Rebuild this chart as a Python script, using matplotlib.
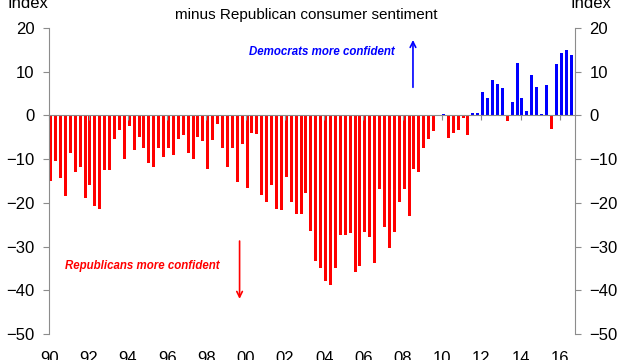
import matplotlib
matplotlib.use("Agg")
import matplotlib.pyplot as plt
import numpy as np

plt.rcParams["font.family"] = ["Liberation Sans", "DejaVu Sans"]

# Democrat minus Republican consumer sentiment, quarterly 1990Q1 - 2016Q3
start_year = 1990
sentiment_gap = [
    -15.0, -10.4, -14.2, -18.4,   # 1990
    -8.5, -12.9, -11.9, -19.0,    # 1991
    -15.9, -20.7, -21.4, -12.5,   # 1992
    -12.5, -5.5, -3.4, -10.0,     # 1993
    -2.4, -7.9, -5.0, -7.4,       # 1994
    -10.9, -11.9, -7.4, -9.5,     # 1995
    -7.4, -9.1, -5.5, -4.5,       # 1996
    -8.5, -10.0, -5.0, -5.9,      # 1997
    -12.3, -5.6, -1.9, -7.5,      # 1998
    -11.9, -7.4, -15.2, -6.6,     # 1999
    -16.6, -4.0, -4.3, -18.1,     # 2000
    -19.9, -15.9, -21.3, -21.6,   # 2001
    -14.0, -19.7, -22.6, -22.6,   # 2002
    -17.7, -26.4, -33.2, -34.9,   # 2003
    -37.9, -38.8, -34.9, -27.3,   # 2004
    -27.3, -26.9, -35.8, -34.5,   # 2005
    -26.6, -27.7, -33.8, -16.9,   # 2006
    -25.5, -30.3, -26.6, -19.9,   # 2007
    -16.9, -22.9, -12.3, -13.0,   # 2008
    -7.5, -5.3, -3.6, 0.0,        # 2009
    0.3, -5.2, -4.1, -3.4,        # 2010
    -0.5, -4.4, 0.5, 0.5,         # 2011
    5.3, 3.9, 8.1, 7.3,           # 2012
    6.2, -1.2, 3.1, 11.9,         # 2013
    3.9, 1.0, 9.3, 6.6,           # 2014
    0.3, 7.0, -3.0, 11.7,         # 2015
    14.2, 14.9, 13.9,             # 2016
]
tick_years = list(range(1990, 2017, 2))
tick_labels = [f"{y % 100:02d}" for y in tick_years]

GRAY = "#8c8c8c"

vals = np.array(sentiment_gap)
x = start_year + np.arange(len(vals)) / 4 + 0.07
colors = np.where(vals >= 0, "#0000ff", "#ff0000")

fig = plt.figure(figsize=(6.4, 3.6), dpi=100)
ax = fig.add_axes([0.0761, 0.0722, 0.8223, 0.85])

ax.bar(x, vals, width=0.15, color=colors, zorder=2)

ax.set_xlim(1989.97, 2016.77)
ax.set_ylim(-50, 20)
ax.set_yticks(range(-50, 21, 10))

# x labels sit at the bottom, tick marks live on the zero line
ax.set_xticks(tick_years)
ax.set_xticklabels(tick_labels)
ax.tick_params(axis="x", length=0, pad=12.5, labelsize=12)
ax.spines["bottom"].set_visible(False)
ax.spines["top"].set_visible(False)
for side in ("left", "right"):
    ax.spines[side].set_color(GRAY)
ax.tick_params(axis="y", direction="out", length=4.3, color=GRAY,
               labelsize=12, left=True, right=True,
               labelleft=True, labelright=True)
ax.tick_params(axis="y", which="major", pad=6)

zero = ax.secondary_xaxis(50 / 70)
zero.set_alignment("bottom")
zero.set_xticks(tick_years)
zero.set_xticklabels([])
zero.tick_params(axis="x", direction="out", length=3.6, color=GRAY)
zero.spines["bottom"].set_color(GRAY)
zero.set_zorder(3)

fig.text(48 / 640, 1 - 8 / 360, "Index", ha="right", va="baseline", fontsize=12)
fig.text(570 / 640, 1 - 8 / 360, "Index", ha="left", va="baseline", fontsize=12)
fig.text(306.7 / 640, 1 - 19.5 / 360, "minus Republican consumer sentiment",
         ha="center", va="baseline", fontsize=11)

ax.text(2003.9, 14.6, "Democrats more confident", color="#0000ff",
        fontsize=8.3, fontweight="bold", fontstyle="italic",
        ha="center", va="center")
ax.annotate("", xy=(2008.52, 17.9), xytext=(2008.52, 5.8),
            arrowprops=dict(arrowstyle="->", color="#0000ff", lw=1.2))

ax.text(1994.74, -34.4, "Republicans more confident", color="#ff0000",
        fontsize=8.3, fontweight="bold", fontstyle="italic",
        ha="center", va="center")
ax.annotate("", xy=(1999.69, -42.6), xytext=(1999.69, -28.1),
            arrowprops=dict(arrowstyle="->", color="#ff0000", lw=1.2))

fig.savefig("out.png", dpi=100)
